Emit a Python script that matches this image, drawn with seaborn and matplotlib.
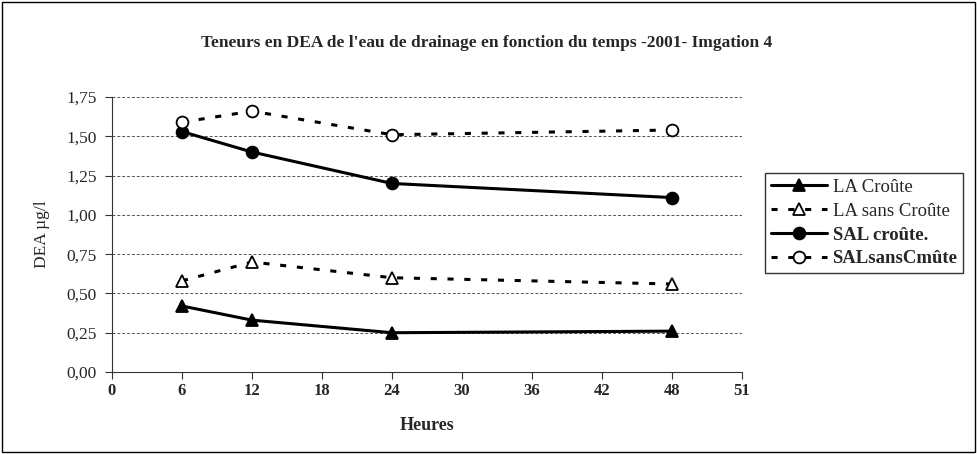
import matplotlib
matplotlib.use("Agg")
import matplotlib.pyplot as plt
import seaborn as sns
import pandas as pd
from matplotlib.patches import Rectangle

# Drainage-water DEA content over time
heures = [6, 12, 24, 48]
la_croute = [0.42, 0.33, 0.25, 0.26]
la_sans_croute = [0.58, 0.70, 0.60, 0.56]
sal_croute = [1.53, 1.40, 1.20, 1.11]
sal_sans_croute = [1.59, 1.66, 1.51, 1.54]

x_ticks = [0, 6, 12, 18, 24, 30, 36, 42, 48, 54]
x_tick_labels = ["0", "6", "12", "18", "24", "30", "36", "42", "48", "51"]
y_ticks = [0.0, 0.25, 0.50, 0.75, 1.00, 1.25, 1.50, 1.75]
y_tick_labels = ["0,00", "0,25", "0,50", "0,75", "1,00", "1,25", "1,50", "1,75"]

series_names = ["LA Croûte", "LA sans Croûte", "SAL croûte.", "SALsansCmûte"]
series_values = [la_croute, la_sans_croute, sal_croute, sal_sans_croute]

df = pd.DataFrame(
    [(h, v, name) for name, vals in zip(series_names, series_values) for h, v in zip(heures, vals)],
    columns=["Heures", "DEA", "Serie"],
)

sns.set_theme(style="white")
plt.rcParams["font.family"] = ["Liberation Serif", "DejaVu Serif"]

fig = plt.figure(figsize=(9.78, 4.54), dpi=100)
ax = fig.add_axes([0.1145, 0.1806, 0.6442, 0.6057])

styles = {
    "LA Croûte": dict(marker="^", mfc="black", dashes=None),
    "LA sans Croûte": dict(marker="^", mfc="white", dashes=(2.0, 3.5)),
    "SAL croûte.": dict(marker="o", mfc="black", dashes=None),
    "SALsansCmûte": dict(marker="o", mfc="white", dashes=(2.0, 3.5)),
}

for name in series_names:
    st = styles[name]
    sub = df[df["Serie"] == name]
    sns.lineplot(data=sub, x="Heures", y="DEA", ax=ax, color="black",
                 marker=st["marker"], markersize=8.5, markerfacecolor=st["mfc"],
                 markeredgecolor="black", markeredgewidth=1.3, linewidth=2.2,
                 label=name, zorder=3)
    line = ax.get_lines()[-1]
    if st["dashes"] is not None:
        line.set_dashes(st["dashes"])

ax.set_xlim(0, 54)
ax.set_ylim(0, 1.75)
ax.set_xticks(x_ticks)
ax.set_xticklabels(x_tick_labels, fontsize=12, fontweight="bold")
ax.set_yticks(y_ticks)
ax.set_yticklabels(y_tick_labels, fontsize=12.5)
ax.yaxis.grid(True, color="#555555", linestyle=(0, (3, 2)), linewidth=0.7)
ax.xaxis.grid(False)

for side in ["top", "right"]:
    ax.spines[side].set_visible(False)
for side in ["left", "bottom"]:
    ax.spines[side].set_color("#333333")
    ax.spines[side].set_linewidth(0.8)

ax.tick_params(axis="y", direction="out", length=5, width=0.8, color="#333333", left=True, pad=6)
ax.tick_params(axis="x", direction="out", length=5, width=0.8, color="#333333", bottom=True, pad=3)

ax.set_xlabel("Heures", fontsize=13, fontweight="bold", labelpad=13)
ax.set_ylabel("DEA µg/l", fontsize=12.5, labelpad=12)

fig.text(0.498, 0.905, "Teneurs en DEA de l'eau de drainage en fonction du temps -2001- Imgation 4",
         ha="center", va="center", fontsize=12.5, fontweight="bold")

leg = ax.legend(loc="upper left", bbox_to_anchor=(1.0365, 0.7236), frameon=True, fancybox=False,
                edgecolor="black", fontsize=13.5, handlelength=3.0, handletextpad=0.3,
                labelspacing=0.36, borderpad=0.3, borderaxespad=0)
leg.get_frame().set_linewidth(1.0)
for txt in leg.get_texts()[2:]:
    txt.set_fontweight("bold")

fig.patches.append(Rectangle((0.002, 0.004), 0.995, 0.992, transform=fig.transFigure,
                             fill=False, edgecolor="black", linewidth=1.0))

fig.savefig("out.png", dpi=100)
